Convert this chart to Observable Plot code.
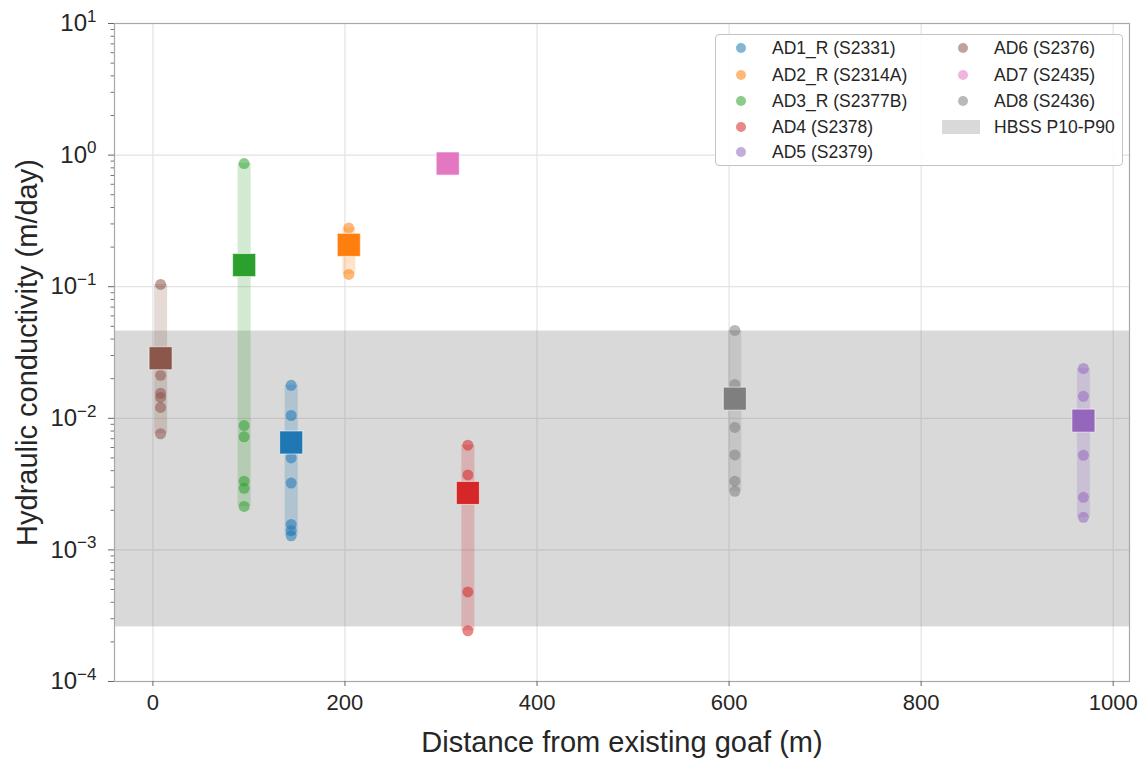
<!DOCTYPE html>
<html>
<head>
<meta charset="utf-8">
<script src="https://cdn.jsdelivr.net/npm/d3@7"></script>
<script src="https://cdn.jsdelivr.net/npm/@observablehq/plot@0.6"></script>
<style>
  body { margin: 0; background: #fff; font-family: "Liberation Sans", Arial, sans-serif; }
  #wrap { position: relative; width: 1138px; height: 761px; }
  #legend { position: absolute; left: 715px; top: 34px; width: 408px; height: 132px;
    border: 1.5px solid #c4c4c4; border-radius: 4px; background: rgba(255,255,255,0.9);
    box-sizing: border-box; font-size: 17.5px; color: #262626; }
  .li { position: absolute; white-space: nowrap; line-height: 20px; }
  .mk { position: absolute; width: 10px; height: 10px; border-radius: 50%; opacity: 0.55; }
  .sw { position: absolute; width: 38px; height: 14px; background: #808080; opacity: 0.3; }
</style>
</head>
<body>
<div id="wrap"><div id="legend"></div></div>
<script>
// ---- data ----
const series = ["AD1_R (S2331)", "AD2_R (S2314A)", "AD3_R (S2377B)", "AD4 (S2378)",
                "AD5 (S2379)", "AD6 (S2376)", "AD7 (S2435)", "AD8 (S2436)"];
const colors = ["#1f77b4", "#ff7f0e", "#2ca02c", "#d62728",
                "#9467bd", "#8c564b", "#e377c2", "#7f7f7f"];
const distances = [144, 204, 95, 328, 969, 8, 307, 606];
const kValues = [
  [0.0178, 0.0105, 0.0050, 0.00322, 0.00156, 0.00140, 0.00128],
  [0.279, 0.21, 0.124],
  [0.863, 0.0088, 0.00724, 0.00333, 0.00294, 0.00214],
  [0.00625, 0.00371, 0.000479, 0.000243],
  [0.0239, 0.0147, 0.00524, 0.00251, 0.00177],
  [0.104, 0.0212, 0.0155, 0.0144, 0.0121, 0.00763],
  [0.86],
  [0.0465, 0.0181, 0.00853, 0.00527, 0.00333, 0.00279]
];
const kMeans = [0.00655, 0.208, 0.146, 0.00271, 0.0096, 0.0286, 0.863, 0.0141];
const bandLabel = "HBSS P10-P90";
const bandP10 = 0.00026;
const bandP90 = 0.046;
const xTicks = [0, 200, 400, 600, 800, 1000];
const yTicks = [1e-4, 1e-3, 1e-2, 1e-1, 1, 10];
const xTitle = "Distance from existing goaf (m)";
const yTitle = "Hydraulic conductivity (m/day)";

// ---- derived tables ----
const points = series.flatMap((s, i) => kValues[i].map(k => ({series: s, x: distances[i], k})));
const bars = series.map((s, i) => ({series: s, x: distances[i], lo: d3.min(kValues[i]), hi: d3.max(kValues[i])}));
const means = series.map((s, i) => ({series: s, x: distances[i], k: kMeans[i]}));
const minorTicks = [];
for (let e = -4; e < 1; e++) for (let m = 2; m <= 9; m++) minorTicks.push(m * Math.pow(10, e));

const chart = Plot.plot({
  width: 1138, height: 761,
  marginLeft: 114, marginRight: 9, marginTop: 23, marginBottom: 80,
  style: {fontFamily: "Liberation Sans, Arial, sans-serif", fontSize: "22px", color: "#262626", background: "transparent"},
  x: {domain: [-40, 1017], label: null},
  y: {type: "log", domain: [1e-4, 10], label: null},
  color: {domain: series, range: colors},
  marks: [
    Plot.gridX(xTicks, {stroke: "#e2e2e2", strokeOpacity: 1, strokeWidth: 1.2}),
    Plot.gridY(yTicks, {stroke: "#e2e2e2", strokeOpacity: 1, strokeWidth: 1.2}),
    Plot.rect([{lo: bandP10, hi: bandP90}], {y1: "lo", y2: "hi", fill: "#808080", fillOpacity: 0.3}),
    Plot.ruleX(bars, {x: "x", y1: "lo", y2: "hi", stroke: "series", strokeWidth: 13, strokeOpacity: 0.22}),
    Plot.dot(points, {x: "x", y: "k", r: 5.5, fill: "series", fillOpacity: 0.55, stroke: null}),
    Plot.dot(means, {x: "x", y: "k", symbol: "square", r: 13, fill: "series", stroke: "white", strokeWidth: 0.6}),
    Plot.frame({stroke: "#a8a8a8", strokeWidth: 1.2}),
    Plot.axisX(xTicks, {tickSize: 5, tickPadding: 8, stroke: "#666", fontSize: 22, label: null,
      tickFormat: d => String(d)}),
    Plot.axisY(minorTicks, {tickSize: 3.5, stroke: "#777", tickFormat: () => "", label: null}),
    Plot.axisY(yTicks, {tickSize: 6, tickPadding: 12, stroke: "#666", fontSize: 24, label: null,
      tickFormat: d => "10^" + Math.round(Math.log10(d))}),
    Plot.text([xTitle], {frameAnchor: "bottom", lineAnchor: "middle", dy: 61, fontSize: 29, fill: "#262626"}),
    Plot.text([yTitle], {frameAnchor: "left", textAnchor: "middle", lineAnchor: "middle", dx: -87, rotate: -90, fontSize: 29, fill: "#262626"})
  ]
});

// render exponents as superscripts
d3.select(chart).selectAll('g[aria-label="y-axis tick label"] text').each(function() {
  const t = d3.select(this);
  const s = t.text();
  if (!s.startsWith("10^")) return;
  const exp = s.slice(3).replace("-", "\u2212");
  t.text(null);
  t.append("tspan").text("10");
  t.append("tspan").attr("dy", "-0.55em").attr("font-size", "17px").text(exp);
});

document.getElementById("wrap").prepend(chart);

// legend
const legend = document.getElementById("legend");
const rowTop = [13, 40, 66, 92, 117];
series.forEach((s, i) => {
  const col = i < 5 ? 0 : 1;
  const row = i < 5 ? i : i - 5;
  const cy = rowTop[row];
  const mk = document.createElement("div");
  mk.className = "mk";
  mk.style.background = colors[i];
  mk.style.left = (col ? 242 : 20) + "px";
  mk.style.top = (cy - 5) + "px";
  legend.appendChild(mk);
  const tx = document.createElement("div");
  tx.className = "li";
  tx.textContent = s;
  tx.style.left = (col ? 278 : 56) + "px";
  tx.style.top = (cy - 10) + "px";
  legend.appendChild(tx);
});
const sw = document.createElement("div");
sw.className = "sw";
sw.style.left = "226px";
sw.style.top = (rowTop[3] - 7) + "px";
legend.appendChild(sw);
const st = document.createElement("div");
st.className = "li";
st.textContent = bandLabel;
st.style.left = "278px";
st.style.top = (rowTop[3] - 10) + "px";
legend.appendChild(st);
</script>
</body>
</html>
